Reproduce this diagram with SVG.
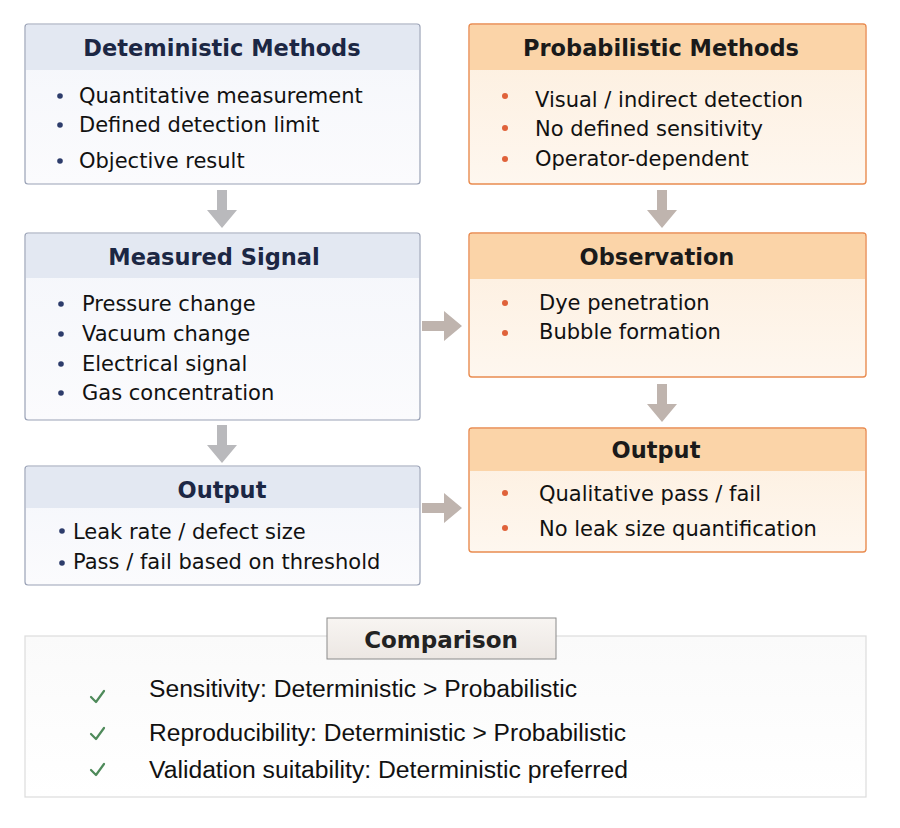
<svg xmlns="http://www.w3.org/2000/svg" width="900" height="828" viewBox="0 0 900 828">
<style>
.title{font-family:"DejaVu Sans",Verdana,sans-serif;font-weight:bold;font-size:22.5px;text-anchor:middle}
.bt{fill:#1c2744}
.ot{fill:#1a1a1a}
.item{font-family:"DejaVu Sans",Verdana,sans-serif;font-size:21px;fill:#111}
.cmp{font-family:"Liberation Sans",Arial,sans-serif;font-size:23.5px;fill:#111}
.bbox{fill:url(#bBody);stroke:#9aa2b6;stroke-width:1.2}
.obox{fill:url(#oBody);stroke:#e98c50;stroke-width:1.4}
.bhead{fill:#e3e8f2}
.ohead{fill:#fbd4a8}
.bdot{fill:#2d3c6b}
.odot{fill:#e0623a}
.arr{fill:#b9b9bc}
.arr2{fill:#bfb4ae}
.chk{fill:none;stroke:#4e8a5a;stroke-width:2.2;stroke-linecap:round;stroke-linejoin:round}
</style>
<defs>
<linearGradient id="bBody" x1="0" y1="0" x2="0" y2="1"><stop offset="0" stop-color="#f4f6fb"/><stop offset="1" stop-color="#fbfbfd"/></linearGradient>
<linearGradient id="oBody" x1="0" y1="0" x2="0" y2="1"><stop offset="0" stop-color="#fdeedd"/><stop offset="1" stop-color="#fef7ef"/></linearGradient>
<linearGradient id="cBody" x1="0" y1="0" x2="0" y2="1"><stop offset="0" stop-color="#fafafa"/><stop offset="1" stop-color="#ffffff"/></linearGradient>
<linearGradient id="tab" x1="0" y1="0" x2="0" y2="1"><stop offset="0" stop-color="#f8f5f2"/><stop offset="1" stop-color="#ece7e3"/></linearGradient>
</defs>
<rect width="900" height="828" fill="#ffffff"/>

<g id="connectors">
<path class="arr" d="M217,190 h10 v20 h10 l-15,18 l-15,-18 h10 z"/>
<path class="arr2" d="M657,190 h10 v20 h10 l-15,18 l-15,-18 h10 z"/>
<path class="arr" d="M217,425 h10 v20 h10 l-15,18 l-15,-18 h10 z"/>
<path class="arr2" d="M657,384 h10 v20 h10 l-15,18 l-15,-18 h10 z"/>
<path class="arr2" d="M422,321 h22 v-10 l18,15 l-18,15 v-10 h-22 z"/>
<path class="arr2" d="M422,503 h22 v-10 l18,15 l-18,15 v-10 h-22 z"/>
</g>

<g id="det-methods">
<rect class="bbox" x="25" y="24" width="395" height="160" rx="3"/>
<path class="bhead" d="M26,25 h393 v45 h-393 z"/>
<text class="title bt" x="222" y="56">Deteministic Methods</text>
<circle class="bdot" cx="60" cy="96" r="2.8"/>
<circle class="bdot" cx="60" cy="125" r="2.8"/>
<circle class="bdot" cx="60" cy="161" r="2.8"/>
<text class="item" x="79" y="103">Quantitative measurement</text>
<text class="item" x="79" y="132">Defined detection limit</text>
<text class="item" x="79" y="168">Objective result</text>
</g>

<g id="prob-methods">
<rect class="obox" x="469" y="24" width="397" height="160" rx="3"/>
<path class="ohead" d="M470,25 h395 v45 h-395 z"/>
<text class="title ot" x="661" y="56">Probabilistic Methods</text>
<circle class="odot" cx="505" cy="96" r="3"/>
<circle class="odot" cx="505" cy="128" r="3"/>
<circle class="odot" cx="505" cy="159" r="3"/>
<text class="item" x="535" y="107">Visual / indirect detection</text>
<text class="item" x="535" y="136">No defined sensitivity</text>
<text class="item" x="535" y="166">Operator-dependent</text>
</g>

<g id="measured-signal">
<rect class="bbox" x="25" y="233" width="395" height="187" rx="3"/>
<path class="bhead" d="M26,234 h393 v44 h-393 z"/>
<text class="title bt" x="214" y="265">Measured Signal</text>
<circle class="bdot" cx="61" cy="304" r="2.8"/>
<circle class="bdot" cx="61" cy="334" r="2.8"/>
<circle class="bdot" cx="61" cy="364" r="2.8"/>
<circle class="bdot" cx="61" cy="393" r="2.8"/>
<text class="item" x="82" y="311">Pressure change</text>
<text class="item" x="82" y="341">Vacuum change</text>
<text class="item" x="82" y="371">Electrical signal</text>
<text class="item" x="82" y="400">Gas concentration</text>
</g>

<g id="observation">
<rect class="obox" x="469" y="233" width="397" height="144" rx="3"/>
<path class="ohead" d="M470,234 h395 v45 h-395 z"/>
<text class="title ot" x="657" y="265">Observation</text>
<circle class="odot" cx="505" cy="303" r="3"/>
<circle class="odot" cx="505" cy="333" r="3"/>
<text class="item" x="539" y="310">Dye penetration</text>
<text class="item" x="539" y="339">Bubble formation</text>
</g>

<g id="output-det">
<rect class="bbox" x="25" y="466" width="395" height="119" rx="3"/>
<path class="bhead" d="M26,467 h393 v41 h-393 z"/>
<text class="title bt" x="222" y="498">Output</text>
<circle class="bdot" cx="62" cy="531" r="2.8"/>
<circle class="bdot" cx="62" cy="563" r="2.8"/>
<text class="item" x="73" y="539">Leak rate / defect size</text>
<text class="item" x="73" y="569">Pass / fail based on threshold</text>
</g>

<g id="output-prob">
<rect class="obox" x="469" y="428" width="397" height="124" rx="3"/>
<path class="ohead" d="M470,429 h395 v42 h-395 z"/>
<text class="title ot" x="656" y="458">Output</text>
<circle class="odot" cx="505" cy="493" r="3"/>
<circle class="odot" cx="505" cy="528" r="3"/>
<text class="item" x="539" y="501">Qualitative pass / fail</text>
<text class="item" x="539" y="536">No leak size quantification</text>
</g>

<g id="comparison">
<rect x="25" y="636" width="841" height="161" fill="url(#cBody)" stroke="#dcdcdc" stroke-width="1.2"/>
<rect x="327" y="618" width="229" height="41" fill="url(#tab)" stroke="#8a8a8a" stroke-width="1"/>
<text x="441" y="648" style="font-family:'DejaVu Sans',Verdana,sans-serif;font-size:23px;text-anchor:middle;fill:#222;font-weight:bold">Comparison</text>
<path class="chk" d="M91,697 l5,5 l8,-11"/>
<path class="chk" d="M91,734 l5,5 l8,-11"/>
<path class="chk" d="M91,770 l5,5 l8,-11"/>
<text class="cmp" x="149" y="697" textLength="428" lengthAdjust="spacingAndGlyphs">Sensitivity: Deterministic &gt; Probabilistic</text>
<text class="cmp" x="149" y="741" textLength="477" lengthAdjust="spacingAndGlyphs">Reproducibility: Deterministic &gt; Probabilistic</text>
<text class="cmp" x="149" y="778" textLength="479" lengthAdjust="spacingAndGlyphs">Validation suitability: Deterministic preferred</text>
</g>
</svg>
